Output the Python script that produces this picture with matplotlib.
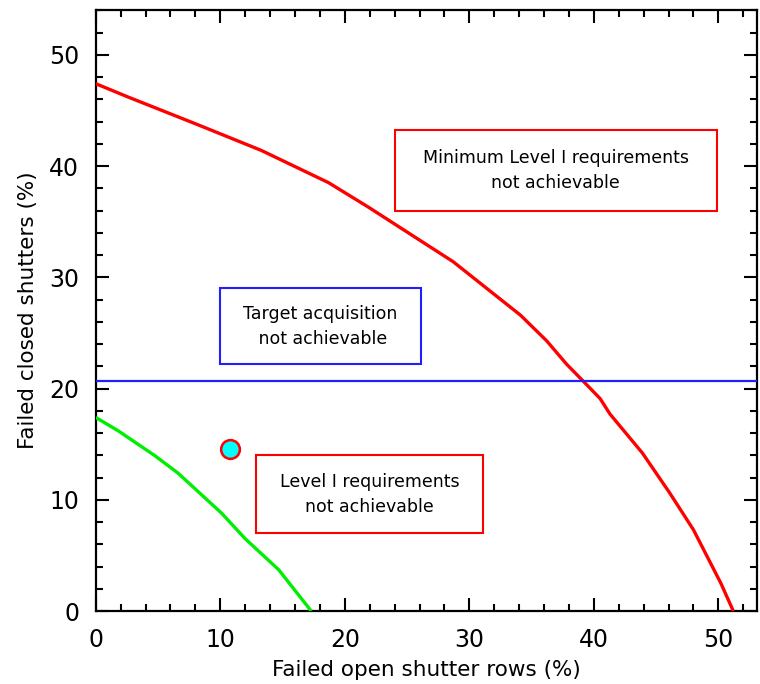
import matplotlib
matplotlib.use("Agg")
import matplotlib.pyplot as plt
from matplotlib.patches import Rectangle
from matplotlib.ticker import MultipleLocator

# Data
red_x = [0, 2.6, 8.0, 13.3, 18.7, 21.9, 26.2, 28.7, 31.4, 34.1, 36.2, 37.8, 39.2,
         40.5, 41.3, 43.9, 46.1, 48.0, 49.1, 50.2, 51.2]
red_y = [47.4, 46.2, 43.8, 41.4, 38.5, 36.3, 33.2, 31.4, 29.0, 26.6, 24.3, 22.2, 20.6,
         19.1, 17.7, 14.2, 10.6, 7.3, 4.9, 2.5, 0]
green_x = [0, 1.8, 4.7, 6.6, 10.1, 12.0, 14.7, 17.3]
green_y = [17.4, 16.2, 14.0, 12.4, 8.8, 6.5, 3.7, 0]
blue_y = 20.7
point_x = [10.8]
point_y = [14.6]

xticks = [0, 10, 20, 30, 40, 50]
yticks = [0, 10, 20, 30, 40, 50]

plt.rcParams['font.family'] = ['DejaVu Sans']

fig = plt.figure(figsize=(7.6, 6.84), dpi=100)
ax = fig.add_axes([0.126, 0.1067, 0.870, 0.8783])

ax.plot(red_x, red_y, color='#ff0000', lw=2.4, solid_capstyle='butt', zorder=3)
ax.plot(green_x, green_y, color='#00ee00', lw=2.4, solid_capstyle='butt', zorder=3)
ax.axhline(blue_y, color='#2020ff', lw=1.6, zorder=3)
ax.plot(point_x, point_y, 'o', ms=13.5, mfc='#00ffff', mec='#ff0000', mew=1.8, zorder=4)

ax.set_xlim(0, 53.1)
ax.set_ylim(0, 54)
ax.set_xticks(xticks)
ax.set_yticks(yticks)
ax.xaxis.set_minor_locator(MultipleLocator(2))
ax.yaxis.set_minor_locator(MultipleLocator(2))
ax.tick_params(which='both', direction='in', top=True, right=True, width=1.5, colors='black')
ax.tick_params(which='major', length=9.5, labelsize=17, pad=12)
ax.tick_params(which='minor', length=5)
for s in ax.spines.values():
    s.set_linewidth(1.6)

ax.set_xlabel('Failed open shutter rows (%)', fontsize=15.5, labelpad=6)
ax.set_ylabel('Failed closed shutters (%)', fontsize=15.5, labelpad=8)

boxes = [
    (24.0, 36.0, 25.9, 7.2, '#ff0000', 'Minimum Level I requirements\nnot achievable'),
    (10.0, 22.2, 16.1, 6.8, '#2020ff', 'Target acquisition\n not achievable'),
    (12.9, 7.0, 18.2, 7.0, '#ff0000', 'Level I requirements\nnot achievable'),
]
for bx, by, bw, bh, col, txt in boxes:
    ax.add_patch(Rectangle((bx, by), bw, bh, fill=False, edgecolor=col, lw=1.5, zorder=2))
    ax.text(bx + bw / 2, by + bh / 2, txt, ha='center', va='center', fontsize=12.5,
            linespacing=1.5, zorder=2)

fig.savefig('out.png', dpi=100)
